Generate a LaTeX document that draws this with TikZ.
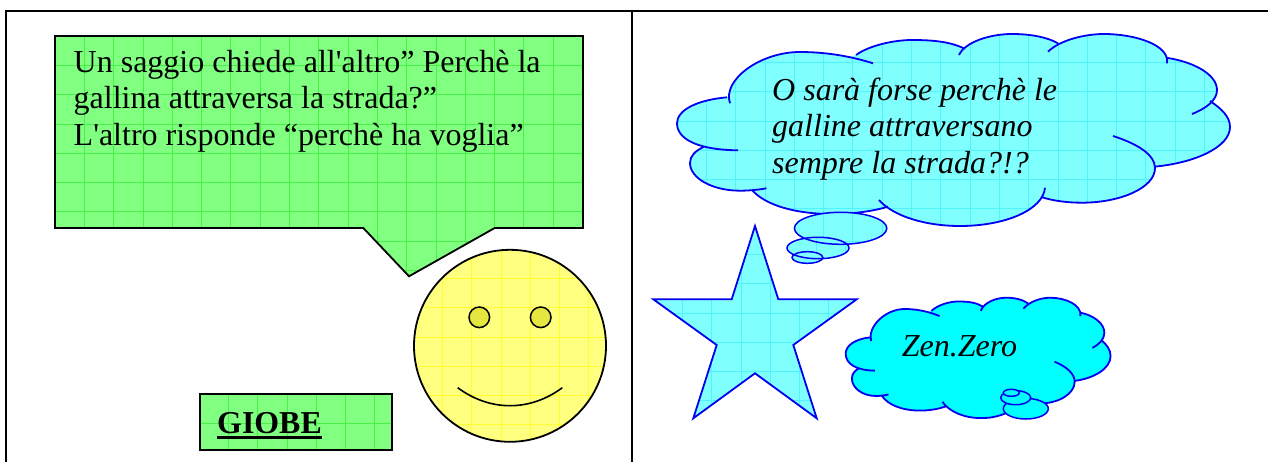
\documentclass[tikz,border=0pt]{standalone}
\usepackage{fontspec}
\newfontfamily\bodyfont{Liberation Serif}
\definecolor{gfill}{HTML}{80FF80}
\definecolor{ggrid}{HTML}{48F048}
\definecolor{yfill}{HTML}{FFFF80}
\definecolor{ygrid}{HTML}{FFFF30}
\definecolor{cfill}{HTML}{80FFFF}
\definecolor{cgrid}{HTML}{50F4FF}
\definecolor{solidcyan}{HTML}{00FFFF}
\definecolor{eyefill}{HTML}{E6E640}
\definecolor{blueline}{HTML}{0000F0}
\newcommand{\tiled}[5]{% fill, grid, origin x, origin y, path
  \begin{scope}
    \clip #5;
    \fill[#1] (0,0) rectangle (1268,462);
    \foreach \k in {1,...,25}{
      \draw[#2,line width=.7pt] ({#3+\k*29.3},0) -- ({#3+\k*29.3},462);
      \draw[#2,line width=.7pt] (0,{#4+\k*29.3}) -- (1268,{#4+\k*29.3});
    }
  \end{scope}}
\newcommand{\lobeA}{(730,103.3) .. controls (722,80) and (760,52) .. (800,52) .. controls (825,52) and (850,56) .. (873,63.3)}
\newcommand{\lobeB}{(856,55) .. controls (870,45) and (895,40) .. (912,40) .. controls (935,40) and (950,42) .. (964,48.3)}
\newcommand{\lobeC}{(959,55) .. controls (965,42) and (990,34) .. (1012,34) .. controls (1030,34) and (1047,37) .. (1058,43.3)}
\newcommand{\lobeD}{(1048,51.7) .. controls (1060,40) and (1085,34) .. (1104,34) .. controls (1135,34) and (1170,45) .. (1167,63.3)}
\newcommand{\lobeE}{(1166,57.7) .. controls (1195,62) and (1217,75) .. (1217,90) .. controls (1217,100) and (1207,108) .. (1192,114)}
\newcommand{\lobeF}{(1210,101) .. controls (1222,109) and (1230,117) .. (1230,127) .. controls (1230,147) and (1195,163) .. (1154,166.7)}
\newcommand{\lobeG}{(1113,136) .. controls (1138,144) and (1155,155) .. (1155,168) .. controls (1155,188) and (1120,202.7) .. (1082,202.7) .. controls (1068,202.7) and (1054,201) .. (1042,197.3)}
\newcommand{\lobeH}{(1045,187.7) .. controls (1043,210) and (1005,226) .. (960,226) .. controls (925,226) and (893,216) .. (879,200)}
\newcommand{\lobeI}{(888,206.7) .. controls (870,212) and (850,214) .. (832,214) .. controls (795,214) and (765,205) .. (752,190)}
\newcommand{\lobeJ}{(766.4,188.3) .. controls (757,190) and (748,190.7) .. (740,190.7) .. controls (712,190.7) and (690,178) .. (690,163) .. controls (690,156) and (695,151) .. (704,146.7)}
\newcommand{\lobeK}{(738,150.3) .. controls (700,150) and (677,140) .. (677,123.3) .. controls (677,110) and (697,100) .. (727,97.3)}
\newcommand{\cloudregion}{\lobeA -- cycle \lobeB -- cycle \lobeC -- cycle \lobeD -- cycle \lobeE -- cycle \lobeF -- cycle \lobeG -- cycle \lobeH -- cycle \lobeI -- cycle \lobeJ -- cycle \lobeK -- cycle
 (727,97) -- (856,55) -- (964,48) -- (1058,43) -- (1167,60) -- (1210,101) -- (1154,167) -- (1042,197) -- (888,207) -- (752,190) -- (704,147) -- cycle}
\newcommand{\cloudlines}{\lobeA \lobeB \lobeC \lobeD \lobeE \lobeF \lobeG \lobeH \lobeI \lobeJ \lobeK}
\newcommand{\speechpath}{(55,36) -- (583,36) -- (583,228) -- (494.7,228) -- (409,276.3) -- (363.3,228) -- (55,228) -- cycle}
\newcommand{\starpath}{(755,226) -- (778.3,299.3) -- (856.7,299.3) -- (793.3,345) -- (816.7,418.3) -- (755,373.3) -- (693.3,418.3) -- (716.7,345) -- (653.3,299.3) -- (731.7,299.3) -- cycle}
\usetikzlibrary{shapes.geometric}
\tikzset{
  blackline/.style={draw=black,line width=1.8pt},
  blueedge/.style={draw=blueline,line width=1.8pt},
  framerule/.style={draw=black,line width=2pt},
  bodytext/.style={inner sep=0pt,anchor=base west,font=\bodyfont\fontsize{32}{36}\selectfont},
  cloudtext/.style={inner sep=0pt,anchor=base west,font=\bodyfont\fontsize{32}{36}\selectfont\itshape},
  bubble/.style={ellipse,draw=blueline,line width=1.5pt,inner sep=0pt},
  eye/.style={circle,draw=black,line width=1.5pt,fill=eyefill,minimum size=20.6pt,inner sep=0pt},
}
\begin{document}
\begin{tikzpicture}[x=1pt,y=-1pt]
\useasboundingbox (0,0) rectangle (1268,462);
\fill[white] (0,0) rectangle (1268,462);
% frame
\coordinate (tl) at (6,11);
\coordinate (tr) at (1268,11);
\coordinate (bl) at (6,462);
\coordinate (tm) at (632,11);
\coordinate (bm) at (632,462);
\draw[framerule] (bl) -- (tl) -- (tr);
\draw[framerule] (tm) -- (bm);
% speech bubble
\tiled{gfill}{ggrid}{55}{36}{\speechpath}
\draw[blackline] \speechpath;
\node[bodytext] (l1) at (73.5,72.5) {Un saggio chiede all'altro” Perchè la};
\node[bodytext] (l2) at (73.5,109) {gallina attraversa la strada?”};
\node[bodytext] (l3) at (73.5,146) {L'altro risponde “perchè ha voglia”};
% smiley
\tiled{yfill}{ygrid}{413}{249}{(510,345.8) circle[radius=96]}
\draw[blackline] (510,345.8) circle[radius=96];
\node[eye] (eyeL) at (479.3,317.3) {};
\node[eye] (eyeR) at (540.7,317.3) {};
\draw[black,line width=1.6pt] (457.7,387.7) .. controls (490,411.7) and (530,411.7) .. (562.3,387.7);
% name box
\tiled{gfill}{ggrid}{199}{394}{(200,394) rectangle (391.7,450)}
\draw[blackline] (200,394) rectangle (391.7,450);
\node[inner sep=0pt,anchor=base west,font=\bodyfont\fontsize{31.9}{36}\selectfont\bfseries] (giobe) at (217,433) {GIOBE};
\draw[black,line width=2.4pt] (giobe.base west)++(0,4.5) -- ++(104.7,0);
% big cloud
\tiled{cfill}{cgrid}{677}{33}{\cloudregion}
\draw[blueedge] \cloudlines;
\node[cloudtext] (c1) at (772,100.5) {O sarà forse perchè le};
\node[cloudtext] (c2) at (772,137) {galline attraversano};
\node[cloudtext] (c3) at (772,174) {sempre la strada?!?};
\tiled{cfill}{cgrid}{794}{212}{(840.6,228.3) ellipse[x radius=46.2,y radius=16]}
\tiled{cfill}{cgrid}{787}{237}{(818,248) ellipse[x radius=31,y radius=10.7]}
\tiled{cfill}{cgrid}{792}{251}{(807.4,257.5) ellipse[x radius=15.4,y radius=5.8]}
\node[bubble,minimum width=92.4pt,minimum height=32pt] (b1) at (840.6,228.3) {};
\node[bubble,minimum width=62pt,minimum height=21.4pt] (b2) at (818,248) {};
\node[bubble,minimum width=30.8pt,minimum height=11.6pt] (b3) at (807.4,257.5) {};
% star
\tiled{cfill}{cgrid}{653}{225}{\starpath}
\draw[blueedge,line join=miter] \starpath;
% small cloud
\begin{scope}[x=.479pt,y=-.627pt,shift={(521.4pt,-276.4pt)}]
\fill[solidcyan] \cloudregion;
\draw[blueedge] \cloudlines;
\end{scope}
\node[bubble,fill=solidcyan,minimum width=45pt,minimum height=20.6pt] (s1) at (1025.8,408.7) {};
\node[bubble,fill=solidcyan,minimum width=30pt,minimum height=14pt] (s2) at (1015.7,397.7) {};
\node[bubble,fill=solidcyan,minimum width=16pt,minimum height=7pt] (s3) at (1011.3,392.8) {};
\node[cloudtext] (z) at (901.7,356) {Zen.Zero};
\end{tikzpicture}
\end{document}
